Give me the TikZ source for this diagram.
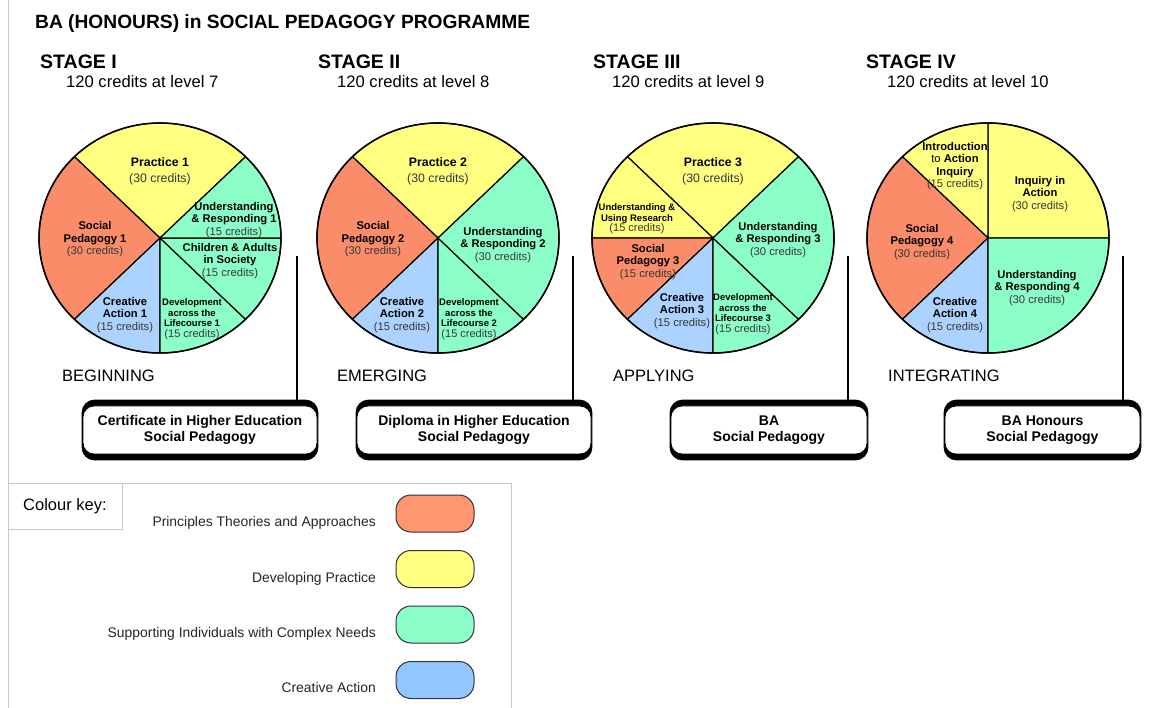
\documentclass[tikz,border=0pt]{standalone}
\usepackage{fontspec}
\setmainfont{Liberation Sans}
\usetikzlibrary{backgrounds}
\definecolor{sRed}{RGB}{250,140,106}
\definecolor{sYel}{RGB}{255,255,128}
\definecolor{sGrn}{RGB}{140,255,200}
\definecolor{sBlu}{RGB}{172,210,255}
\definecolor{kRed}{RGB}{255,150,112}
\definecolor{kBlu}{RGB}{145,198,255}
\definecolor{crgray}{RGB}{55,55,55}
\definecolor{frame}{RGB}{200,200,200}
\newcommand\crd[1]{\textcolor{crgray}{#1}}
\newcommand\pieslice[4]{%
  \filldraw[fill=#4, draw=black, line width=1.2pt, line join=round]
    (#1) -- ++(#2:121 and 115) arc[start angle=#2, end angle=#3, x radius=121, y radius=115] -- cycle;}
\begin{document}
\begin{tikzpicture}[x=1pt,y=1pt,
  title/.style={font=\bfseries\fontsize{19.2}{22}\selectfont, inner sep=0},
  stagehead/.style={font=\bfseries\fontsize{19.5}{22}\selectfont, inner sep=0},
  credline/.style={font=\fontsize{16.6}{20}\selectfont, inner sep=0},
  phase/.style={font=\fontsize{16.5}{20}\selectfont, inner sep=0},
  lab/.style={font=\fontsize{11.2}{12.5}\selectfont, align=center, inner sep=0},
  biglab/.style={font=\fontsize{12.3}{16}\selectfont, align=center, inner sep=0},
  smalllab/.style={font=\fontsize{9.5}{10.5}\selectfont, align=center, inner sep=0},
  award/.style={draw=black, fill=white, line width=0.8pt, rounded corners=11pt,
    minimum height=48, align=center, inner sep=0,
    font=\bfseries\fontsize{14}{15.5}\selectfont},
  conn/.style={draw=black, line width=2.6pt},
  swatch/.style={draw=black!80, line width=1pt, rounded corners=15pt,
    minimum width=78, minimum height=37, inner sep=0},
  keylab/.style={font=\fontsize{13.9}{16}\selectfont, inner sep=0, text=black!85},
  keytitle/.style={font=\fontsize{16.5}{19}\selectfont, inner sep=0}
]
\useasboundingbox (0,0) rectangle (1149,-708);
\begin{scope}[on background layer]
  \fill[white] (0,0) rectangle (1149,-708);
\end{scope}

% page frame and key frame
\draw[frame, line width=1pt] (8,0) -- (8,-708);
\draw[frame, line width=1pt] (8,-483) -- (511,-483) -- (511,-708);
\draw[frame, line width=1pt] (8,-529) -- (122,-529) -- (122,-483);

% headings
\node[title, anchor=base west] (ttl) at (35,-29) {BA (HONOURS) in SOCIAL PEDAGOGY PROGRAMME};
\node[stagehead, anchor=base west] (s1) at (40,-69) {STAGE I};
\node[stagehead, anchor=base west] (s2) at (318,-69) {STAGE II};
\node[stagehead, anchor=base west] (s3) at (593,-69) {STAGE III};
\node[stagehead, anchor=base west] (s4) at (866,-69) {STAGE IV};
\node[credline, anchor=base west] (l1) at (66,-88) {120 credits at level 7};
\node[credline, anchor=base west] (l2) at (337,-88) {120 credits at level 8};
\node[credline, anchor=base west] (l3) at (612,-88) {120 credits at level 9};
\node[credline, anchor=base west] (l4) at (887,-88) {120 credits at level 10};

% pie centres
\coordinate (c1) at (160,-238);
\coordinate (c2) at (438,-238);
\coordinate (c3) at (713,-238);
\coordinate (c4) at (988,-238);

% pie 1
\pieslice{c1}{45}{135}{sYel}
\pieslice{c1}{135}{225}{sRed}
\pieslice{c1}{225}{270}{sBlu}
\pieslice{c1}{270}{315}{sGrn}
\pieslice{c1}{315}{360}{sGrn}
\pieslice{c1}{0}{45}{sGrn}
\draw[line width=1.5pt] (c1) ellipse [x radius=121, y radius=115];
% pie 2
\pieslice{c2}{45}{135}{sYel}
\pieslice{c2}{135}{225}{sRed}
\pieslice{c2}{225}{270}{sBlu}
\pieslice{c2}{270}{315}{sGrn}
\pieslice{c2}{-45}{45}{sGrn}
\draw[line width=1.5pt] (c2) ellipse [x radius=121, y radius=115];
% pie 3
\pieslice{c3}{45}{135}{sYel}
\pieslice{c3}{135}{180}{sYel}
\pieslice{c3}{180}{225}{sRed}
\pieslice{c3}{225}{270}{sBlu}
\pieslice{c3}{270}{315}{sGrn}
\pieslice{c3}{-45}{45}{sGrn}
\draw[line width=1.5pt] (c3) ellipse [x radius=121, y radius=115];
% pie 4
\pieslice{c4}{0}{90}{sYel}
\pieslice{c4}{90}{135}{sYel}
\pieslice{c4}{135}{225}{sRed}
\pieslice{c4}{225}{270}{sBlu}
\pieslice{c4}{270}{360}{sGrn}
\draw[line width=1.5pt] (c4) ellipse [x radius=121, y radius=115];

% pie 1 labels
\node[biglab] (a1) at (160,-171) {\textbf{Practice 1}\\\crd{(30 credits)}};
\node[lab] (a2) at (95,-239.5) {\textbf{Social}\\\textbf{Pedagogy 1}\\\crd{(30 credits)}};
\node[lab] (a3) at (234,-220) {\textbf{Understanding}\\\textbf{\& Responding 1}\\\crd{(15 credits)}};
\node[lab] (a4) at (230,-261) {\textbf{Children \& Adults}\\\textbf{in Society}\\\crd{(15 credits)}};
\node[lab] (a5) at (125,-315) {\textbf{Creative}\\\textbf{Action 1}\\\crd{(15 credits)}};
\node[smalllab] (a6) at (192,-319) {\textbf{Development}\\\textbf{across the}\\\textbf{Lifecourse 1}\\\fontsize{11}{12}\selectfont\crd{(15 credits)}};

% pie 2 labels
\node[biglab] (b1l) at (438,-171) {\textbf{Practice 2}\\\crd{(30 credits)}};
\node[lab] (b2l) at (373,-239.5) {\textbf{Social}\\\textbf{Pedagogy 2}\\\crd{(30 credits)}};
\node[lab] (b3l) at (503,-245) {\textbf{Understanding}\\\textbf{\& Responding 2}\\\crd{(30 credits)}};
\node[lab] (b4l) at (402,-315) {\textbf{Creative}\\\textbf{Action 2}\\\crd{(15 credits)}};
\node[smalllab] (b5l) at (469,-319) {\textbf{Development}\\\textbf{across the}\\\textbf{Lifecourse 2}\\\fontsize{11}{12}\selectfont\crd{(15 credits)}};

% pie 3 labels
\node[biglab] (d1) at (713,-171) {\textbf{Practice 3}\\\crd{(30 credits)}};
\node[smalllab] (d2) at (637,-219) {\textbf{Understanding \&}\\\textbf{Using Research}\\\fontsize{11}{12}\selectfont\crd{(15 credits)}};
\node[lab] (d3) at (648,-262) {\textbf{Social}\\\textbf{Pedagogy 3}\\\crd{(15 credits)}};
\node[lab] (d4) at (778,-240) {\textbf{Understanding}\\\textbf{\& Responding 3}\\\crd{(30 credits)}};
\node[lab] (d5) at (682,-311) {\textbf{Creative}\\\textbf{Action 3}\\\crd{(15 credits)}};
\node[smalllab] (d6) at (743,-314) {\textbf{Development}\\\textbf{across the}\\\textbf{Lifecourse 3}\\\fontsize{11}{12}\selectfont\crd{(15 credits)}};

% pie 4 labels
\node[lab] (e1) at (955,-166) {\textbf{Introduction}\\to \textbf{Action}\\\textbf{Inquiry}\\\crd{(15 credits)}};
\node[lab] (e2) at (1040,-194) {\textbf{Inquiry in}\\\textbf{Action}\\\crd{(30 credits)}};
\node[lab] (e3) at (922,-242) {\textbf{Social}\\\textbf{Pedagogy 4}\\\crd{(30 credits)}};
\node[lab] (e4) at (1037,-288) {\textbf{Understanding}\\\textbf{\& Responding 4}\\\crd{(30 credits)}};
\node[lab] (e5) at (955,-315) {\textbf{Creative}\\\textbf{Action 4}\\\crd{(15 credits)}};

% phase names
\node[phase, anchor=base west] (g1) at (62,-382) {BEGINNING};
\node[phase, anchor=base west] (g2) at (337,-382) {EMERGING};
\node[phase, anchor=base west] (g3) at (613,-382) {APPLYING};
\node[phase, anchor=base west] (g4) at (888,-382) {INTEGRATING};

% award boxes
\node[award, minimum width=234] (w1) at (200,-430) {Certificate in Higher Education\\Social Pedagogy};
\node[award, minimum width=234] (w2) at (474,-430) {Diploma in Higher Education\\Social Pedagogy};
\node[award, minimum width=196] (w3) at (769,-430) {BA\\Social Pedagogy};
\node[award, minimum width=195] (w4) at (1042.5,-430) {BA Honours\\Social Pedagogy};
\begin{scope}[on background layer]
  \foreach \w in {w1,w2,w3,w4}
    \fill[black, rounded corners=13pt] ([shift={(-1,6)}]\w.north west) rectangle ([shift={(1,-6)}]\w.south east);
\end{scope}

% connectors
\coordinate (t1) at (297,-256);
\coordinate (t2) at (573,-256);
\coordinate (t3) at (848,-256);
\coordinate (t4) at (1123,-256);
\draw[conn] (t1) -- ([yshift=4]t1 |- w1.north);
\draw[conn] (t2) -- ([yshift=4]t2 |- w2.north);
\draw[conn] (t3) -- ([yshift=4]t3 |- w3.north);
\draw[conn] (t4) -- ([yshift=4]t4 |- w4.north);

% colour key
\node[keytitle, anchor=base west] (kt) at (23,-510) {Colour key:};
\node[swatch, fill=kRed] (k1) at (435,-513.5) {};
\node[swatch, fill=sYel] (k2) at (435,-569) {};
\node[swatch, fill=sGrn] (k3) at (435,-624.5) {};
\node[swatch, fill=kBlu] (k4) at (435,-680) {};
\node[keylab, anchor=base east] (m1) at (376,-526) {Principles Theories and Approaches};
\node[keylab, anchor=base east] (m2) at (376,-582) {Developing Practice};
\node[keylab, anchor=base east] (m3) at (376,-637) {Supporting Individuals with Complex Needs};
\node[keylab, anchor=base east] (m4) at (376,-692) {Creative Action};
\end{tikzpicture}
\end{document}
